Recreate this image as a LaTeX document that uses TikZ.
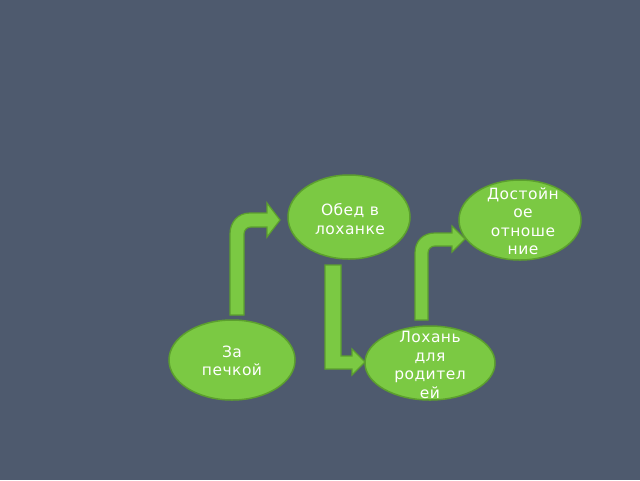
\documentclass[tikz,border=0pt]{standalone}
\usepackage{fontspec}
\setmainfont[LetterSpace=3]{DejaVu Sans}
\usetikzlibrary{shapes.geometric}
\definecolor{bg}{HTML}{4E5A6E}
\definecolor{gfill}{HTML}{7BC943}
\definecolor{gline}{HTML}{5C9F2E}
\tikzset{
  bubble/.style={ellipse, fill=gfill, draw=gline, line width=1.5pt, inner sep=0pt},
  txt/.style={text=white, align=center, font=\fontsize{15.5}{18.5}\selectfont, inner sep=0pt},
  barrow/.style={fill=gfill, draw=gline, line width=1.2pt, line join=miter}
}
\begin{document}
\begin{tikzpicture}[x=1pt, y=-1pt]
\fill[bg] (0,0) rectangle (640,480);
\useasboundingbox (0,0) rectangle (640,480);
% ellipses
\node[bubble, minimum width=122pt, minimum height=84pt] (obed) at (349,217) {};
\node[bubble, minimum width=126pt, minimum height=80pt] (pech) at (232,360) {};
\node[bubble, minimum width=130pt, minimum height=74pt] (loh) at (430,363) {};
\node[bubble, minimum width=122pt, minimum height=80pt] (dost) at (520,220) {};
% texts
\node[txt] (obedT) at (350,219) {Обед в\\лоханке};
\node[txt] (pechT) at (232,361) {За\\печкой};
\node[txt] (lohT) at (430,365) {Лохань\\для\\родител\\ей};
\node[txt] (dostT) at (523,221) {Достойн\\ое\\отноше\\ние};
% bent arrow 1: За печкой -> Обед
\draw[barrow] (230,315) -- (230,234) .. controls (230,222) and (238,213) .. (250,213)
  -- (267,213) -- (267,203) -- (280,220) -- (267,237) -- (267,227) -- (251,227)
  .. controls (247,227) and (244,230) .. (244,234) -- (244,315) -- cycle;
% bent arrow 2: Обед -> Лохань
\draw[barrow] (325,265) -- (341,265) -- (341,356) -- (352,356) -- (352,349)
  -- (365,362) -- (352,375) -- (352,369) -- (325,369) -- cycle;
% bent arrow 3: Лохань -> Достойное
\draw[barrow] (415,320) -- (415,253) .. controls (415,241) and (423,233) .. (435,233)
  -- (452,233) -- (452,226) -- (465,239) -- (452,252) -- (452,246) -- (435,246)
  .. controls (431,246) and (428,249) .. (428,253) -- (428,320) -- cycle;
\end{tikzpicture}
\end{document}
